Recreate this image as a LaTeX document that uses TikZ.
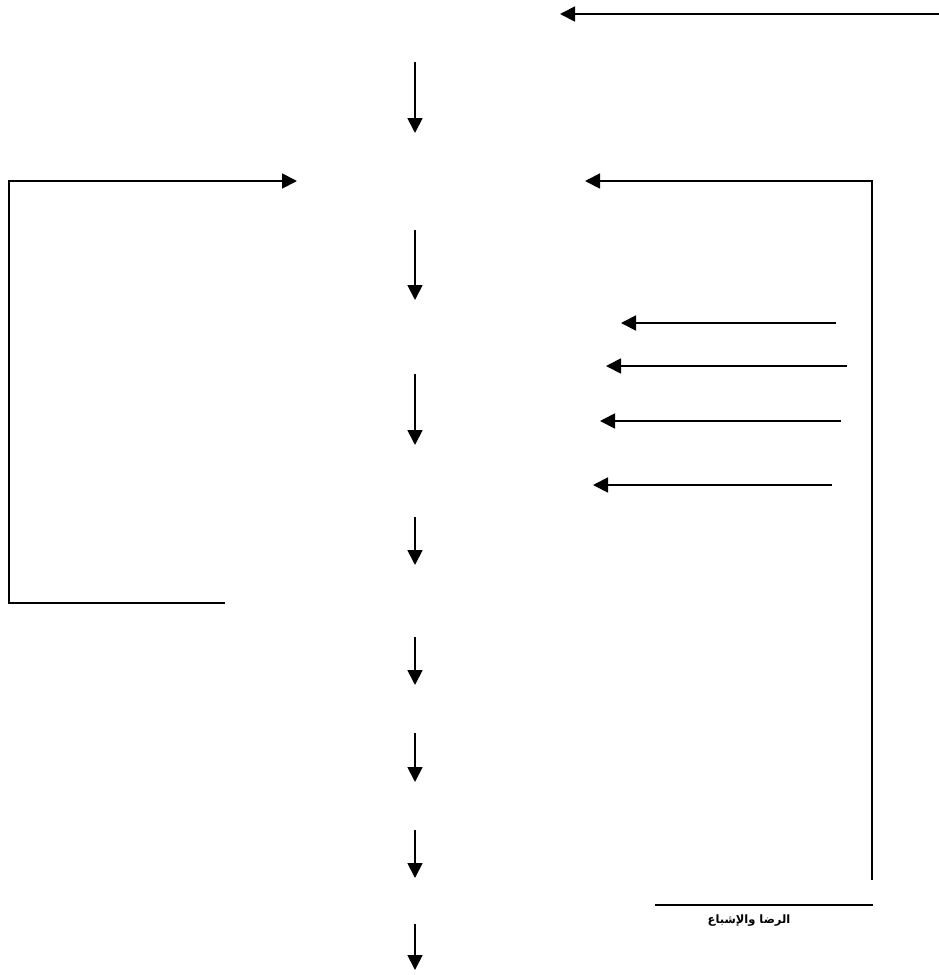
\documentclass[tikz,border=0pt]{standalone}
\usepackage{fontspec}
\usetikzlibrary{arrows.meta}
\newfontfamily\arabicfont[Script=Arabic]{DejaVu Sans}
\TeXXeTstate=1
\begin{document}
\begin{tikzpicture}[x=1pt,y=-1pt,
  conn/.style={line width=1.8pt,-{Triangle[length=15pt,width=15pt]}},
  plain/.style={line width=1.8pt},
  lbl/.style={inner sep=0pt,font=\arabicfont\bfseries\fontsize{11.5}{13}\selectfont}]
\useasboundingbox (0,0) rectangle (939,975);
% top arrow
\coordinate (t1) at (939,14); \coordinate (t2) at (560,14);
\draw[conn] (t1) -- (t2);
% vertical arrows
\foreach \i/\a/\b in {1/62/133,2/230/300,3/374/445,4/517/565,5/637/685,6/733/782,7/830/878,8/924/970}{
  \coordinate (v\i a) at (415,\a); \coordinate (v\i b) at (415,\b);
  \draw[conn] (v\i a) -- (v\i b);
}
% left bracket
\coordinate (l1) at (225,603); \coordinate (l2) at (9,603);
\coordinate (l3) at (9,181); \coordinate (l4) at (297,181);
\draw[conn] (l1) -- (l2) -- (l3) -- (l4);
% right bracket
\coordinate (r1) at (872,880); \coordinate (r2) at (872,181); \coordinate (r3) at (585,181);
\draw[conn] (r1) -- (r2) -- (r3);
% side arrows
\foreach \i/\y/\a/\b in {1/323/836/621,2/366/847/606,3/421/841/600,4/485/832/593}{
  \coordinate (s\i a) at (\a,\y); \coordinate (s\i b) at (\b,\y);
  \draw[conn] (s\i a) -- (s\i b);
}
% bottom line and label
\coordinate (b1) at (655,905); \coordinate (b2) at (873,905);
\draw[plain] (b1) -- (b2);
\node[lbl] (sat) at (749,921) {\beginR الرضا والإشباع\endR};
\end{tikzpicture}
\end{document}
